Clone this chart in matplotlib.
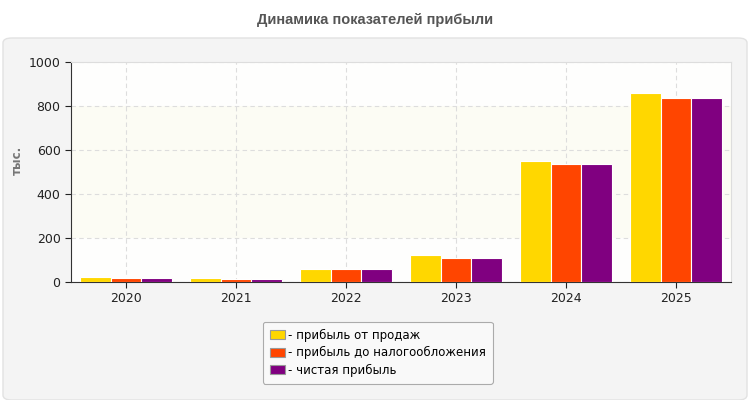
import matplotlib.pyplot as plt
import numpy as np
from matplotlib.patches import FancyBboxPatch

plt.rcParams["font.family"] = ["DejaVu Sans"]
plt.rcParams["hatch.color"] = "#e8e8e8"
plt.rcParams["hatch.linewidth"] = 0.5

years = ["2020", "2021", "2022", "2023", "2024", "2025"]
sales_profit = [23, 18, 59, 123, 550, 860]
pretax_profit = [18, 14, 59, 110, 536, 836]
net_profit = [18, 14, 59, 110, 536, 836]
series_names = ["- прибыль от продаж", "- прибыль до налогообложения", "- чистая прибыль"]
colors = ["#ffd700", "#ff4500", "#800080"]

fig = plt.figure(figsize=(7.5, 4), dpi=100)
fig.patch.set_facecolor("white")

# outer panel behind everything
panel = FancyBboxPatch((3 / 750, 0), 744 / 750, 362 / 400,
                       boxstyle="round,pad=0,rounding_size=0.012",
                       transform=fig.transFigure, facecolor="#f4f4f4",
                       edgecolor="#e2e2e2", linewidth=1.0, zorder=-5)
fig.patches.append(panel)

fig.text(0.5, 1 - 20 / 400, "Динамика показателей прибыли", ha="center", va="center",
         fontsize=10.5, fontweight="bold", color="#555555", family="Liberation Sans")

ax = fig.add_axes([71 / 750, 1 - 282 / 400, 660 / 750, 220 / 400], zorder=2)
ax.set_facecolor("#fefefd")
ax.patch.set_hatch("//////")
ax.axhspan(200, 800, color="#fbfbee", alpha=0.6, zorder=0, lw=0)

x = np.arange(len(years)) + 0.5
w = 0.28
for i, (vals, c, name) in enumerate(zip([sales_profit, pretax_profit, net_profit], colors, series_names)):
    ax.bar(x + (i - 1) * w, vals, width=w, color=c, edgecolor="white", linewidth=0.8,
           label=name, zorder=3)

ax.set_xlim(0, len(years))
ax.set_ylim(0, 1000)
ax.set_yticks(range(0, 1001, 200))
ax.set_xticks(x)
ax.set_xticklabels(years)
ax.tick_params(labelsize=9, colors="#222222", length=4, width=0.8)
ax.grid(True, color="#dddddd", linestyle=(0, (4, 3)), linewidth=0.8, zorder=1)
ax.set_axisbelow(True)
for side in ["top", "right"]:
    ax.spines[side].set_color("#dddddd")
for side in ["left", "bottom"]:
    ax.spines[side].set_color("#333333")
ax.set_ylabel("тыс.", fontsize=8.5, fontweight="bold", color="#777777")
ax.yaxis.set_label_coords(-47 / 660, 0.555)

leg = fig.legend(loc="upper left", bbox_to_anchor=(257 / 750, 1 - 316 / 400),
                 fontsize=8.5, frameon=True, fancybox=True, handlelength=1.3,
                 handleheight=0.8, handletextpad=0.2, labelspacing=0.35,
                 borderpad=0.6, edgecolor="#999999", facecolor="#fbfbfb")
leg.get_frame().set_linewidth(0.8)
for h in leg.legend_handles:
    h.set_edgecolor("#999999")
    h.set_linewidth(0.8)

fig.savefig("out.png", dpi=100)
